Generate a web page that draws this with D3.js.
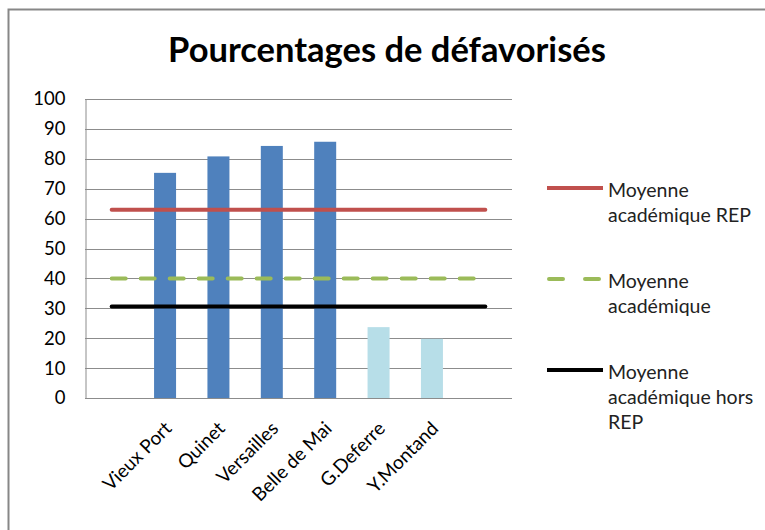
<!DOCTYPE html>
<html>
<head>
<meta charset="utf-8">
<script src="https://cdn.jsdelivr.net/npm/d3@7"></script>
<style>
  body { margin: 0; background: #fff; }
  svg { font-family: "Lato", "Open Sans", sans-serif; }
</style>
</head>
<body>
<div id="chart"></div>
<script>
// categories (first and last are empty slots, as in the source chart)
const categories = ["", "Vieux Port", "Quinet", "Versailles", "Belle de Mai", "G.Deferre", "Y.Montand", " "];
const rep = [null, 75.3, 80.8, 84.3, 85.7, null, null, null];      // dark blue bars
const horsRep = [null, null, null, null, null, 23.7, 19.8, null];   // light blue bars
const moyRep = [63, 63, 63, 63, 63, 63, 63, 63];
const moyAcad = [40, 40, 40, 40, 40, 40, 40, 40];
const moyHorsRep = [30.6, 30.6, 30.6, 30.6, 30.6, 30.6, 30.6, 30.6];
const yTicks = [0, 10, 20, 30, 40, 50, 60, 70, 80, 90, 100];

const width = 765, height = 530;
const margin = { left: 85, right: 253, top: 99, bottom: 132 };

const svg = d3.select("#chart").append("svg")
    .attr("width", width)
    .attr("height", height);

// chart frame (only top and left are visible in the crop)
svg.append("path")
    .attr("d", `M8.5,${height} V9.5 H${width}`)
    .attr("fill", "none")
    .attr("stroke", "#878787")
    .attr("stroke-width", 2);

svg.append("text")
    .attr("x", 387)
    .attr("y", 62)
    .attr("text-anchor", "middle")
    .attr("font-size", 34.5)
    .attr("font-weight", "bold")
    .attr("fill", "#000")
    .text("Pourcentages de défavorisés");

const x = d3.scaleBand()
    .domain(d3.range(categories.length))
    .range([margin.left, width - margin.right])
    .paddingInner(0).paddingOuter(0);

const y = d3.scaleLinear()
    .domain([0, 100])
    .range([height - margin.bottom, margin.top]);

// gridlines
svg.append("g")
    .selectAll("line")
    .data(yTicks)
    .join("line")
    .attr("x1", margin.left)
    .attr("x2", width - margin.right)
    .attr("y1", d => Math.round(y(d)) + 0.5)
    .attr("y2", d => Math.round(y(d)) + 0.5)
    .attr("stroke", "#8c8c8c")
    .attr("stroke-width", 1);

// y axis
const yAxis = svg.append("g")
    .attr("transform", `translate(${margin.left + 0.5},0)`)
    .call(d3.axisLeft(y).tickValues(yTicks).tickSize(0).tickPadding(20));
yAxis.select(".domain").attr("stroke", "#8c8c8c");
yAxis.selectAll("text")
    .attr("font-size", 18.5)
    .attr("font-family", "Lato, 'Open Sans', sans-serif")
    .attr("fill", "#000");

// bars
const barW = 22;
svg.append("g")
    .selectAll("rect")
    .data(rep.map((v, i) => ({ v, i })).filter(d => d.v != null))
    .join("rect")
    .attr("x", d => x(d.i) + x.bandwidth() / 2 - barW / 2)
    .attr("width", barW)
    .attr("y", d => y(d.v))
    .attr("height", d => y(0) - y(d.v))
    .attr("fill", "#4f81bd");

svg.append("g")
    .selectAll("rect")
    .data(horsRep.map((v, i) => ({ v, i })).filter(d => d.v != null))
    .join("rect")
    .attr("x", d => x(d.i) + x.bandwidth() / 2 - barW / 2)
    .attr("width", barW)
    .attr("y", d => y(d.v))
    .attr("height", d => y(0) - y(d.v))
    .attr("fill", "#b7dee8");

// x axis line on top of bars
svg.append("line")
    .attr("x1", margin.left)
    .attr("x2", width - margin.right)
    .attr("y1", Math.round(y(0)) + 0.5)
    .attr("y2", Math.round(y(0)) + 0.5)
    .attr("stroke", "#8c8c8c");

// average lines
const line = d3.line()
    .x((d, i) => x(i) + x.bandwidth() / 2)
    .y(d => y(d));

const series = [
    { name: ["Moyenne", "académique REP"], values: moyRep, color: "#c0504d", dash: null, ly: 188 },
    { name: ["Moyenne", "académique"], values: moyAcad, color: "#9bbb59", dash: "14,15", ly: 279 },
    { name: ["Moyenne", "académique hors", "REP"], values: moyHorsRep, color: "#000000", dash: null, ly: 370 }
];

svg.append("g")
    .selectAll("path")
    .data(series)
    .join("path")
    .attr("d", d => line(d.values))
    .attr("fill", "none")
    .attr("stroke", d => d.color)
    .attr("stroke-width", 4)
    .attr("stroke-linecap", "round")
    .attr("stroke-dasharray", d => d.dash);

// category labels, rotated
svg.append("g")
    .selectAll("text")
    .data(categories)
    .join("text")
    .attr("transform", (d, i) => `translate(${x(i) + x.bandwidth() / 2 + 3},${y(0) + 27}) rotate(-45)`)
    .attr("text-anchor", "end")
    .attr("dy", "0.35em")
    .attr("font-size", 19)
    .attr("fill", "#000")
    .text(d => d);

// legend
const legend = svg.append("g")
    .selectAll("g")
    .data(series)
    .join("g")
    .attr("transform", d => `translate(547,${d.ly})`);

legend.append("line")
    .attr("x1", d => d.dash ? 2 : 0)
    .attr("x2", 56)
    .attr("stroke", d => d.color)
    .attr("stroke-width", 4)
    .attr("stroke-linecap", d => d.dash ? "round" : "butt")
    .attr("stroke-dasharray", d => d.dash ? "14,22" : null);

legend.append("text")
    .attr("x", 61)
    .attr("font-size", 19.5)
    .attr("fill", "#222")
    .selectAll("tspan")
    .data(d => d.name)
    .join("tspan")
    .attr("x", 61)
    .attr("y", (d, i) => i * 25 + 2)
    .attr("dy", "0.35em")
    .text(d => d);
</script>
</body>
</html>
